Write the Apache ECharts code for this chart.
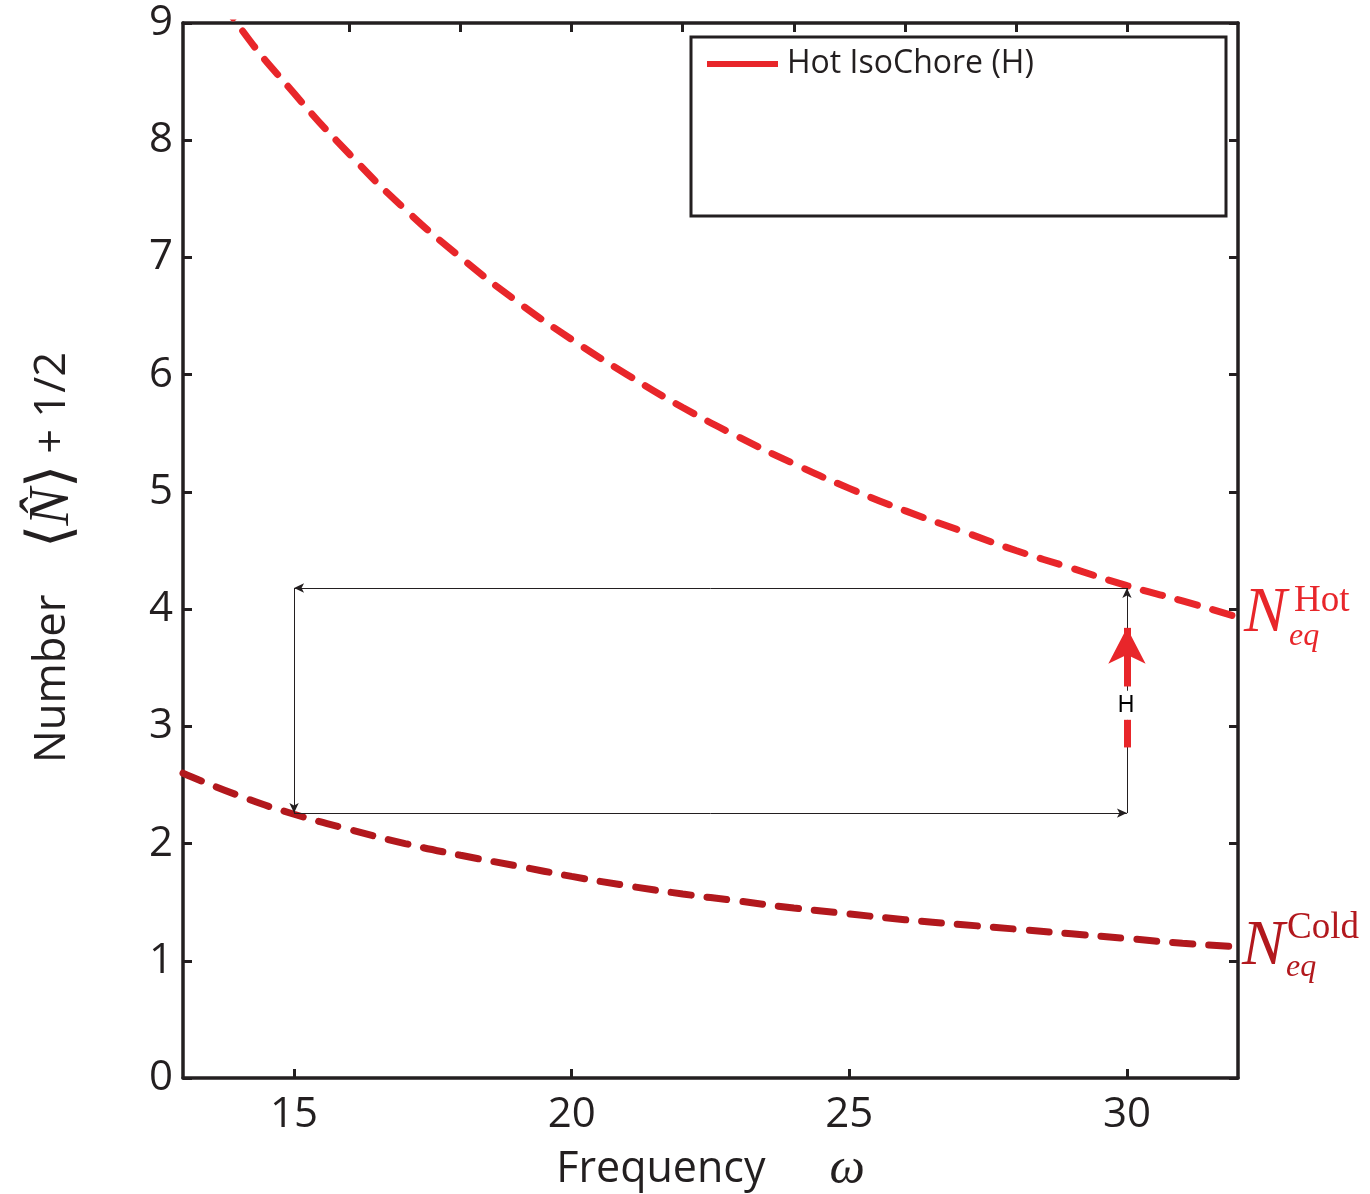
<!DOCTYPE html>
<html>
<head>
<meta charset="utf-8">
<script src="https://cdn.jsdelivr.net/npm/echarts@6/dist/echarts.min.js"></script>
<style>html,body{margin:0;padding:0;background:#fff}#c{width:1370px;height:1194px}</style>
</head>
<body>
<div id="c"></div>
<script>
// ---- data ----
var omega = [13, 14, 15, 16, 17, 18, 19, 20, 21, 22, 23, 24, 25, 26, 27, 28, 29, 30, 31, 32];
var hotEq = [9.7, 8.98, 8.4, 7.88, 7.41, 7.0, 6.63, 6.3, 6.0, 5.72, 5.47, 5.24, 5.03, 4.84, 4.67, 4.5, 4.35, 4.2, 4.07, 3.93];
var coldEq = [2.6, 2.41, 2.25, 2.12, 2.0, 1.9, 1.81, 1.72, 1.64, 1.57, 1.51, 1.45, 1.40, 1.35, 1.31, 1.27, 1.23, 1.19, 1.15, 1.12];
var cycleCorners = { wLow: 15, wHigh: 30, nLow: 2.26, nHigh: 4.18 };
var hotArrow = { w: 30, tailFrom: 2.82, tailTo: 3.06, shaftFrom: 3.34, headTip: 3.84, labelAt: 3.18 };
var xTicksBottom = [15, 20, 25, 30];
var xTicksTop = [16, 18, 20, 22, 24, 26, 28, 30];
var legendName = 'Hot IsoChore (H)';

var HOT = '#e8262a', COLD = '#b2181d', INK = '#231f20';
var chart = echarts.init(document.getElementById('c'));

function pairs(xs, ys) { return xs.map(function (x, i) { return [x, ys[i]]; }); }

var axisLine = { show: true, onZero: false, lineStyle: { color: INK, width: 3.5 } };
var axisTick = { show: true, inside: true, length: 9, lineStyle: { color: INK, width: 3 } };
var c = cycleCorners, a = hotArrow;

var option = {
  animation: false,
  backgroundColor: '#fff',
  grid: { left: 183, right: 132, top: 23, bottom: 116, containLabel: false, outerBoundsMode: 'none' },
  legend: {
    data: [legendName], left: 702, top: 43, icon: 'rect', itemWidth: 71, itemHeight: 6,
    textStyle: { fontFamily: 'Open Sans', fontSize: 32, color: INK, padding: [0, 0, 0, 4] }
  },
  xAxis: [{
    type: 'value', min: 13, max: 32, position: 'bottom',
    axisLine: axisLine,
    axisTick: Object.assign({}, axisTick, { customValues: xTicksBottom }),
    axisLabel: { customValues: xTicksBottom, fontFamily: 'Open Sans', fontSize: 42, color: INK, margin: 16 },
    splitLine: { show: false },
    name: '{a|Frequency}{sp|}{w|ω}', nameLocation: 'middle', nameGap: 67,
    nameTextStyle: {
      rich: {
        a: { fontFamily: 'Open Sans', fontSize: 43, color: INK },
        sp: { width: 64 },
        w: { fontFamily: 'Liberation Serif', fontStyle: 'italic', fontSize: 50, color: INK }
      }
    }
  }, {
    type: 'value', min: 13, max: 32, position: 'top',
    axisLine: axisLine,
    axisTick: Object.assign({}, axisTick, { customValues: xTicksTop }),
    axisLabel: { show: false }, splitLine: { show: false }
  }],
  yAxis: [{
    type: 'value', min: 0, max: 9, interval: 1, position: 'left',
    axisLine: axisLine, axisTick: axisTick,
    axisLabel: { fontFamily: 'Open Sans', fontSize: 42, color: INK, margin: 10 },
    splitLine: { show: false },
    name: '{a|Number}{sp|}{br|⟨}{n|N̂}{br|⟩}{c| + 1/2}{tr|}', nameLocation: 'middle', nameRotate: 90, nameGap: 100,
    nameTextStyle: {
      rich: {
        a: { fontFamily: 'Open Sans', fontSize: 43.5, color: INK },
        sp: { width: 46 },
        br: { fontFamily: 'DejaVu Sans', fontSize: 60, fontWeight: 'lighter', color: INK },
        n: { fontFamily: 'Liberation Serif', fontStyle: 'italic', fontSize: 56, color: INK },
        c: { fontFamily: 'Open Sans', fontSize: 43.5, color: INK },
        tr: { width: 14 }
      }
    }
  }, {
    type: 'value', min: 0, max: 9, interval: 1, position: 'right',
    axisLine: axisLine, axisTick: axisTick,
    axisLabel: { show: false }, splitLine: { show: false }
  }],
  series: [{
    name: 'Hot equilibrium', type: 'line', data: pairs(omega, hotEq), smooth: true,
    showSymbol: false, clip: true, silent: true,
    lineStyle: { color: HOT, width: 7, type: [20, 16], cap: 'round' }
  }, {
    name: 'Cold equilibrium', type: 'line', data: pairs(omega, coldEq), smooth: true,
    showSymbol: false, clip: true, silent: true,
    lineStyle: { color: COLD, width: 7, type: [20, 16], cap: 'round' }
  }, {
    name: 'cycle', type: 'line', data: [], silent: true,
    markLine: {
      silent: true, animation: false, symbol: ['none', 'arrow'], symbolSize: [7, 10],
      lineStyle: { color: INK, width: 1, type: 'solid' }, label: { show: false },
      emphasis: { disabled: true },
      data: [
        [{ coord: [c.wHigh, c.nHigh] }, { coord: [c.wLow, c.nHigh] }],
        [{ coord: [c.wLow, c.nHigh] }, { coord: [c.wLow, c.nLow] }],
        [{ coord: [c.wLow, c.nLow] }, { coord: [c.wHigh, c.nLow] }],
        [{ coord: [c.wHigh, c.nLow] }, { coord: [c.wHigh, c.nHigh] }]
      ]
    }
  }, {
    name: legendName, type: 'line', data: [], silent: true, itemStyle: { color: HOT },
    lineStyle: { color: HOT, width: 6 },
    markLine: {
      silent: true, animation: false, symbol: ['none', 'none'],
      lineStyle: { color: HOT, width: 7, type: 'solid' }, label: { show: false },
      emphasis: { disabled: true },
      data: [
        [{ coord: [a.w, a.tailFrom] }, { coord: [a.w, a.tailTo] }],
        [{ coord: [a.w, a.shaftFrom] }, { coord: [a.w, a.headTip], symbol: 'arrow', symbolSize: [28, 36] }]
      ]
    }
  }]
};
chart.setOption(option);

// curve end labels and the isochore label
function lbl(p, o) {
  return [
    { type: 'text', x: p[0] + o.nx, y: p[1] + o.ny, silent: true,
      style: { text: 'N', fill: o.color, font: 'italic 64px "Liberation Serif"', verticalAlign: 'middle', align: 'left' } },
    { type: 'text', x: p[0] + o.sx, y: p[1] + o.sy, silent: true,
      style: { text: o.sup, fill: o.color, font: '37px "Liberation Serif"', verticalAlign: 'middle', align: 'left' } },
    { type: 'text', x: p[0] + o.bx, y: p[1] + o.by, silent: true,
      style: { text: 'eq', fill: o.color, font: 'italic 32px "Liberation Serif"', verticalAlign: 'middle', align: 'left' } }
  ];
}
var n = omega.length - 1;
var pH = chart.convertToPixel({ xAxisIndex: 0, yAxisIndex: 0 }, [omega[n], hotEq[n]]);
var pC = chart.convertToPixel({ xAxisIndex: 0, yAxisIndex: 0 }, [omega[n], coldEq[n]]);
var pL = chart.convertToPixel({ xAxisIndex: 0, yAxisIndex: 0 }, [a.w, a.labelAt]);
var g = [].concat(
  lbl(pH, { color: HOT, sup: 'Hot', nx: 6, ny: -3, sx: 56, sy: -16, bx: 51, by: 19 }),
  lbl(pC, { color: COLD, sup: 'Cold', nx: 4, ny: 0, sx: 49, sy: -18, bx: 48, by: 21 })
);
g.push({ type: 'text', x: pL[0] - 1, y: pL[1], silent: true, z: 10,
  style: { text: 'H', fill: '#000', font: '23px "Liberation Sans"', verticalAlign: 'middle', align: 'center',
    backgroundColor: '#fff', padding: [3, 3, 3, 3] } });
g.push({ type: 'rect', shape: { x: 691, y: 37, width: 535, height: 179 }, silent: true, z: 1,
  style: { fill: 'none', stroke: INK, lineWidth: 3 } });
chart.setOption({ graphic: g });
</script>
</body>
</html>
